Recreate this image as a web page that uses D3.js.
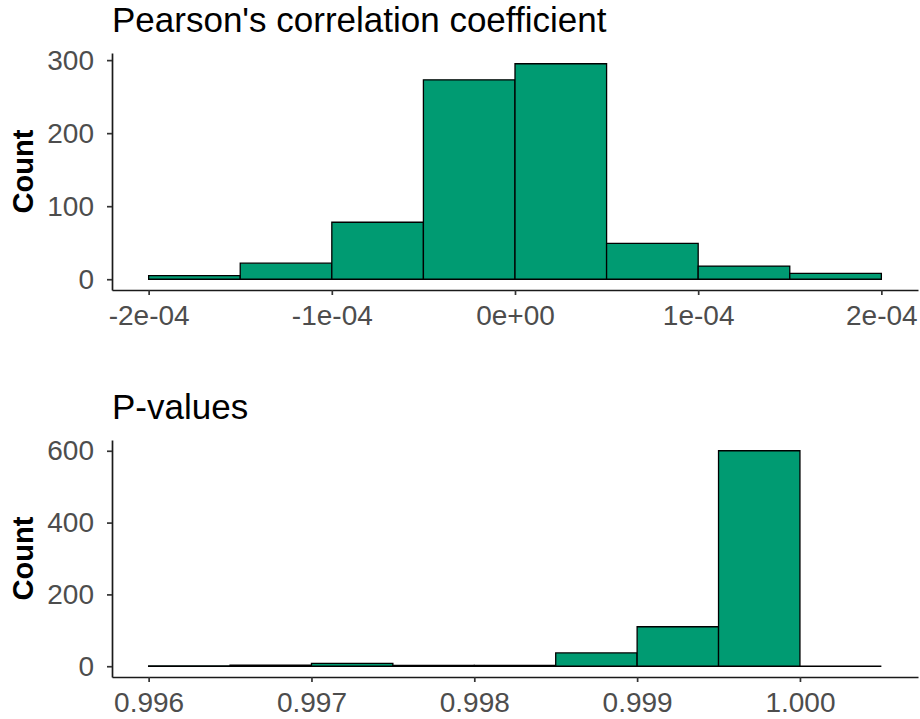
<!DOCTYPE html>
<html lang="en">
<head>
    <meta charset="UTF-8">
    <title>Correlation and P-value Histograms</title>
    <script src="https://cdn.jsdelivr.net/npm/d3@7/dist/d3.min.js"></script>
    <style>
        body{
            margin: 0;
            background: #ffffff;
        }
        text{
            font-family: "Liberation Sans", Arial, sans-serif;
        }
        .title{
            font-size: 35px;
            fill: #000;
        }
        .ylab{
            font-size: 29px;
            font-weight: bold;
            fill: #000;
        }
        .axis path.domain{
            stroke: #1a1a1a;
            stroke-width: 1.7px;
        }
        .axis line{
            stroke: #333;
            stroke-width: 1.7px;
        }
        .axis text{
            font-size: 28px;
            fill: #4d4d4d;
        }
        path.bar{
            fill: #009b72;
            stroke: #000;
            stroke-width: 1.3px;
        }
    </style>
</head>
<body>
<svg id="main" width="920" height="719"></svg>
<script>
    // Pearson's correlation coefficient histogram
    let corrBins = [-2e-4, -1.5e-4, -1e-4, -5e-5, 0, 5e-5, 1e-4, 1.5e-4];
    let corrBinWidth = 5e-5;
    let corrCounts = [5, 22, 78, 273, 295, 49, 18, 8];
    let corrTicks = [-2e-4, -1e-4, 0, 1e-4, 2e-4];
    let corrTickLabels = ['-2e-04', '-1e-04', '0e+00', '1e-04', '2e-04'];
    let corrCountTicks = [0, 100, 200, 300];

    // P-value histogram
    let pBins = [0.996, 0.9965, 0.997, 0.9975, 0.998, 0.9985, 0.999, 0.9995, 1.000];
    let pBinWidth = 0.0005;
    let pCounts = [1, 3, 8, 2, 2, 37, 110, 600, 0];
    let pTicks = [0.996, 0.997, 0.998, 0.999, 1.000];
    let pTickLabels = ['0.996', '0.997', '0.998', '0.999', '1.000'];
    let pCountTicks = [0, 200, 400, 600];

    let svg = d3.select('svg#main');
    let left = 112, right = 918;

    function histogram(top, bottom, title, bins, width, counts, xTicks, xLabels, yTicks){
        let g = svg.append('g');

        // ggplot style 5% expansion on both axes
        let xlo = d3.min(bins), xhi = d3.max(bins) + width;
        let xpad = (xhi - xlo) * 0.05;
        let xScale = d3.scaleLinear().domain([xlo - xpad, xhi + xpad]).range([left, right]);
        let ymax = d3.max(counts);
        let yScale = d3.scaleLinear().domain([-ymax * 0.05, ymax * 1.05]).range([bottom, top]);

        // bars as closed paths so that empty bins still show as a flat line
        let data = bins.map(function(b, i){ return {x0: b, x1: b + width, n: counts[i]}; });
        g.selectAll('path.bar').data(data).enter().append('path')
            .attr('class', 'bar')
            .attr('d', function(d){
                let p = d3.path();
                p.moveTo(xScale(d.x0), yScale(0));
                p.lineTo(xScale(d.x0), yScale(d.n));
                p.lineTo(xScale(d.x1), yScale(d.n));
                p.lineTo(xScale(d.x1), yScale(0));
                p.closePath();
                return p.toString();
            });

        g.append('g')
            .attr('class', 'axis')
            .attr('transform', 'translate(0,' + bottom + ')')
            .call(d3.axisBottom(xScale).tickValues(xTicks)
                .tickFormat(function(d, i){ return xLabels[i]; })
                .tickSizeInner(5).tickSizeOuter(0).tickPadding(10));

        g.append('g')
            .attr('class', 'axis')
            .attr('transform', 'translate(' + left + ',0)')
            .call(d3.axisLeft(yScale).tickValues(yTicks)
                .tickSizeInner(5).tickSizeOuter(0).tickPadding(13));

        g.append('text')
            .attr('class', 'title')
            .attr('x', left)
            .attr('y', top - 21)
            .text(title);

        g.append('text')
            .attr('class', 'ylab')
            .attr('transform', 'translate(33,' + ((top + bottom) / 2) + ') rotate(-90)')
            .attr('text-anchor', 'middle')
            .text('Count');
    }

    histogram(53, 290, "Pearson's correlation coefficient",
        corrBins, corrBinWidth, corrCounts, corrTicks, corrTickLabels, corrCountTicks);
    histogram(440, 677, 'P-values',
        pBins, pBinWidth, pCounts, pTicks, pTickLabels, pCountTicks);
</script>
</body>
</html>
